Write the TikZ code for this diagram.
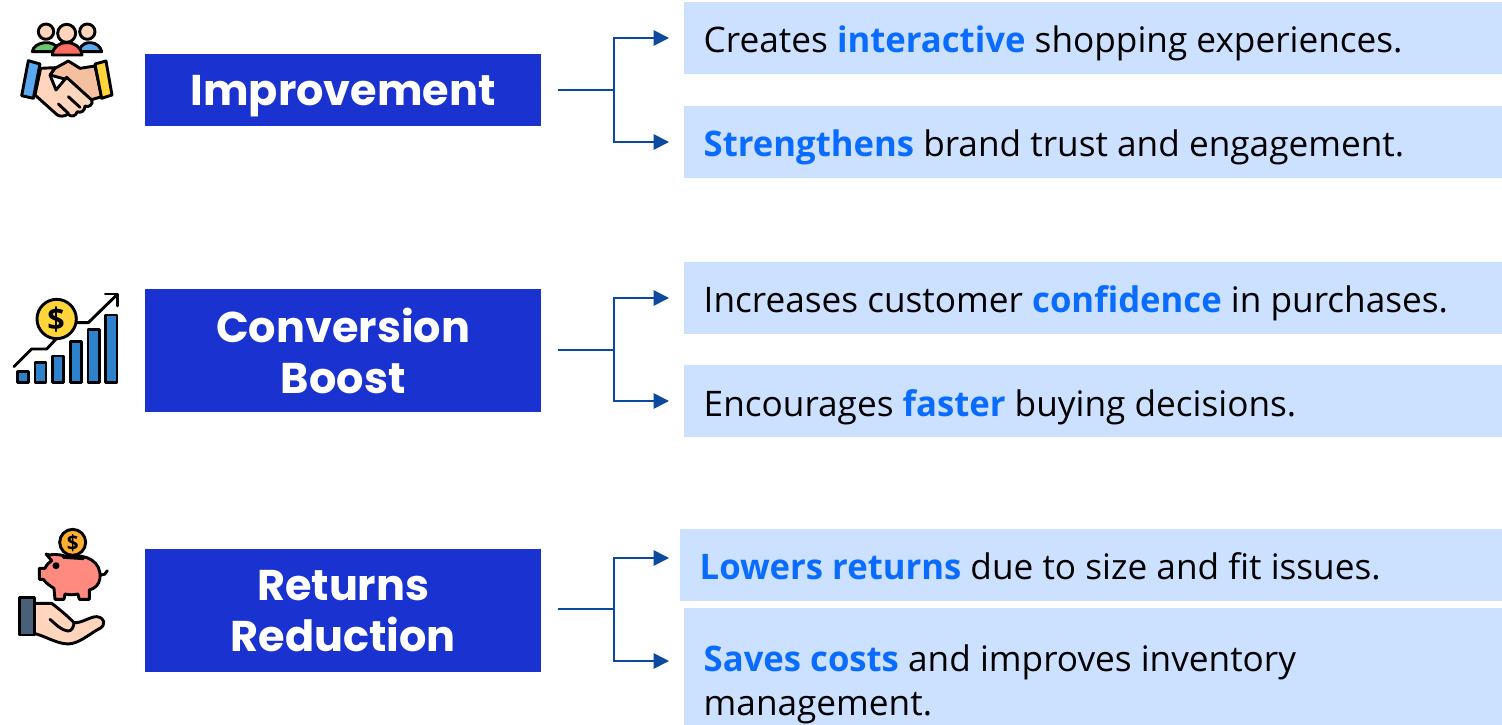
\documentclass[tikz,border=0pt]{standalone}
\usepackage{fontspec}
\setmainfont{Open Sans}[BoldFeatures={FakeStretch=0.985}]
\newfontfamily\headfont{Poppins}[UprightFont=* Bold]
\usetikzlibrary{arrows.meta,calc}
\definecolor{headblue}{HTML}{1A32CF}
\definecolor{boxblue}{HTML}{CCE0FF}
\definecolor{linkblue}{HTML}{0B4A9E}
\definecolor{hilite}{HTML}{0A6CFF}
\definecolor{skin}{HTML}{FFD5BE}
\definecolor{skindk}{HTML}{F5C0A0}
\definecolor{icgreen}{HTML}{6CC66C}
\definecolor{icred}{HTML}{FF6B60}
\definecolor{icblue}{HTML}{5AA9F0}
\definecolor{icyellow}{HTML}{FFD53A}
\definecolor{barblue}{HTML}{2E82CC}
\definecolor{pig}{HTML}{FF8A80}
\definecolor{cuff}{HTML}{4A6078}
\definecolor{coin}{HTML}{FFB030}
\tikzset{
  x=1pt,y=-1pt,
  head/.style={fill=headblue,text=white,minimum width=396pt,align=center,inner sep=0pt,anchor=north west,
    font=\headfont\fontsize{43}{51}\selectfont},
  panel/.style={fill=boxblue,anchor=north west,inner sep=0pt},
  msg/.style={anchor=west,inner sep=0pt,align=left,text=black,font=\fontsize{35.2}{44}\selectfont},
  link/.style={draw=linkblue,line width=1.7pt,-{Triangle[length=15.5pt,width=15.5pt]}},
  stem/.style={draw=linkblue,line width=1.7pt},
  ic/.style={draw=black,line width=2.9pt,line join=round,line cap=round},
  icon/.style={x=0.3333pt,y=-0.3333pt},
}
\newcommand{\hl}[1]{\textcolor{hilite}{\textbf{#1}}}
\begin{document}
\begin{tikzpicture}
\useasboundingbox (0,0) rectangle (1502,725);
% heads
\node[head,minimum height=72pt,text height=40pt,text depth=10pt] (h1) at (145,54) {Improvement};
\node[head,minimum height=123pt] (h2) at (145,289) {Conversion\\Boost};
\node[head,minimum height=123pt] (h3) at (145,549) {Returns\\Reduction};
% panels
\node[panel,minimum width=818pt,minimum height=72pt] (b1) at (684,2) {};
\node[panel,minimum width=818pt,minimum height=72pt] (b2) at (684,106) {};
\node[panel,minimum width=818pt,minimum height=72pt] (b3) at (684,262) {};
\node[panel,minimum width=818pt,minimum height=72pt] (b4) at (684,365) {};
\node[panel,minimum width=822pt,minimum height=72pt] (b5) at (680,529) {};
\node[panel,minimum width=818pt,minimum height=117pt] (b6) at (684,608) {};
% texts
\node[msg] (t1) at (703.5,43) {Creates \hl{interactive} shopping experiences.};
\node[msg] (t2) at (703.5,147) {\hl{Strengthens} brand trust and engagement.};
\node[msg] (t3) at (703.5,303) {Increases customer \hl{confidence} in purchases.};
\node[msg] (t4) at (703.5,407) {Encourages \hl{faster} buying decisions.};
\node[msg] (t5) at (699.5,566) {\hl{Lowers returns} due to size and fit issues.};
\node[msg] (t6) at (703.5,684) {\hl{Saves costs} and improves inventory\\management.};
% connectors
\coordinate (s1) at (558,90);
\coordinate (s2) at (558,350);
\coordinate (s3) at (558,609);
\coordinate (e1) at (669,38);
\coordinate (e2) at (669,142);
\coordinate (e3) at (669,298);
\coordinate (e4) at (669,401);
\coordinate (e5) at (669,558);
\coordinate (e6) at (669,661);
\coordinate (k1) at (614,90);
\coordinate (k2) at (614,350);
\coordinate (k3) at (614,609);
\draw[stem] (s1) -- (k1);
\draw[stem] (s2) -- (k2);
\draw[stem] (s3) -- (k3);
\draw[link] (k1) |- (e1);
\draw[link] (k1) |- (e2);
\draw[link] (k2) |- (e3);
\draw[link] (k2) |- (e4);
\draw[link] (k3) |- (e5);
\draw[link] (k3) |- (e6);
% icon 1: people and handshake
\begin{scope}[icon]
  \path[ic,fill=icgreen] (97,155) .. controls (100,125) and (165,115) .. (175,150) -- (165,155) -- cycle;
  \path[ic,fill=icblue] (238,150) .. controls (250,115) and (300,125) .. (305,155) -- (245,155) -- cycle;
  \path[ic,fill=skin] (138,95) circle (23);
  \path[ic,fill=skin] (262,95) circle (23);
  \path[ic,fill=icred] (157,165) .. controls (160,115) and (240,115) .. (246,165) -- cycle;
  \path[ic,fill=skin] (200,100) circle (27);
  % right hand
  \path[ic,fill=skindk] (205,183) -- (240,205) -- (285,198) -- (305,290) -- (272,300) -- (205,240) -- (150,225) -- (165,205) -- cycle;
  % left hand
  \path[ic,fill=skin] (122,205) -- (165,203) -- (150,225) -- (168,270) -- (200,232) -- (275,300) .. controls (282,312) and (265,325) .. (255,318) .. controls (255,335) and (240,340) .. (232,335) .. controls (228,350) and (212,352) .. (204,342) .. controls (195,350) and (180,350) .. (172,345) -- (105,285) -- cycle;
  \path[ic] (205,290) -- (240,322);
  \path[ic] (175,312) -- (205,340);
  \path[ic,fill=icblue] (85,182) -- (120,192) -- (100,295) -- (65,287) -- cycle;
  \path[ic,fill=icyellow] (285,192) -- (318,183) -- (336,285) -- (305,295) -- cycle;
\end{scope}
% icon 2: chart
\begin{scope}[icon,yshift=-280pt]
  \path[ic] (42,260) -- (95,207) -- (140,207) -- (175,170);
  \path[ic] (230,128) -- (265,128) -- (350,45);
  \path[ic] (316,42) -- (352,42) -- (352,78);
  \path[ic,fill=barblue] (52,275) rectangle (85,308);
  \path[ic,fill=barblue] (105,248) rectangle (138,308);
  \path[ic,fill=barblue] (158,228) rectangle (191,308);
  \path[ic,fill=barblue] (211,185) rectangle (245,308);
  \path[ic,fill=barblue] (264,148) rectangle (298,308);
  \path[ic,fill=barblue] (317,105) rectangle (351,308);
  \path[ic,fill=icyellow] (170,117) circle (59);
  \node[inner sep=0pt,font=\fontsize{31}{31}\selectfont\bfseries] (d2) at (168,118) {\$};
\end{scope}
% icon 3: piggy and hand
\begin{scope}[icon,yshift=-520pt]
  \path[ic,fill=coin] (218,67) circle (39);
  \node[inner sep=0pt,font=\fontsize{21}{21}\selectfont\bfseries] (d3) at (218,68) {\$};
  \path[ic,fill=pig] (148,105) .. controls (175,100) and (190,108) .. (205,110) .. controls (260,100) and (305,125) .. (300,175) .. controls (297,195) and (285,205) .. (268,210) -- (268,238) -- (238,238) -- (234,222) .. controls (220,225) and (210,225) .. (195,222) -- (192,238) -- (165,238) -- (162,205) .. controls (145,195) and (135,185) .. (130,178) -- (118,178) -- (118,145) -- (135,145) .. controls (140,132) and (148,128) .. (155,122) -- (138,102) -- cycle;
  \path[ic] (190,112) -- (250,116);
  \path[ic] (303,165) .. controls (312,168) and (318,160) .. (322,152);
  \path[ic,fill=black] (168,137) circle (6);
  \path[ic,fill=skin] (100,250) -- (155,250) .. controls (175,265) and (205,290) .. (222,308) .. controls (245,310) and (270,290) .. (290,290) .. controls (315,292) and (318,315) .. (300,325) .. controls (270,340) and (240,370) .. (205,372) .. controls (170,372) and (130,345) .. (100,340) -- cycle;
  \path[ic] (150,298) .. controls (165,310) and (180,330) .. (205,333) .. controls (215,333) and (222,320) .. (222,308);
  \path[ic,fill=cuff] (58,233) rectangle (104,345);
\end{scope}
\end{tikzpicture}
\end{document}
